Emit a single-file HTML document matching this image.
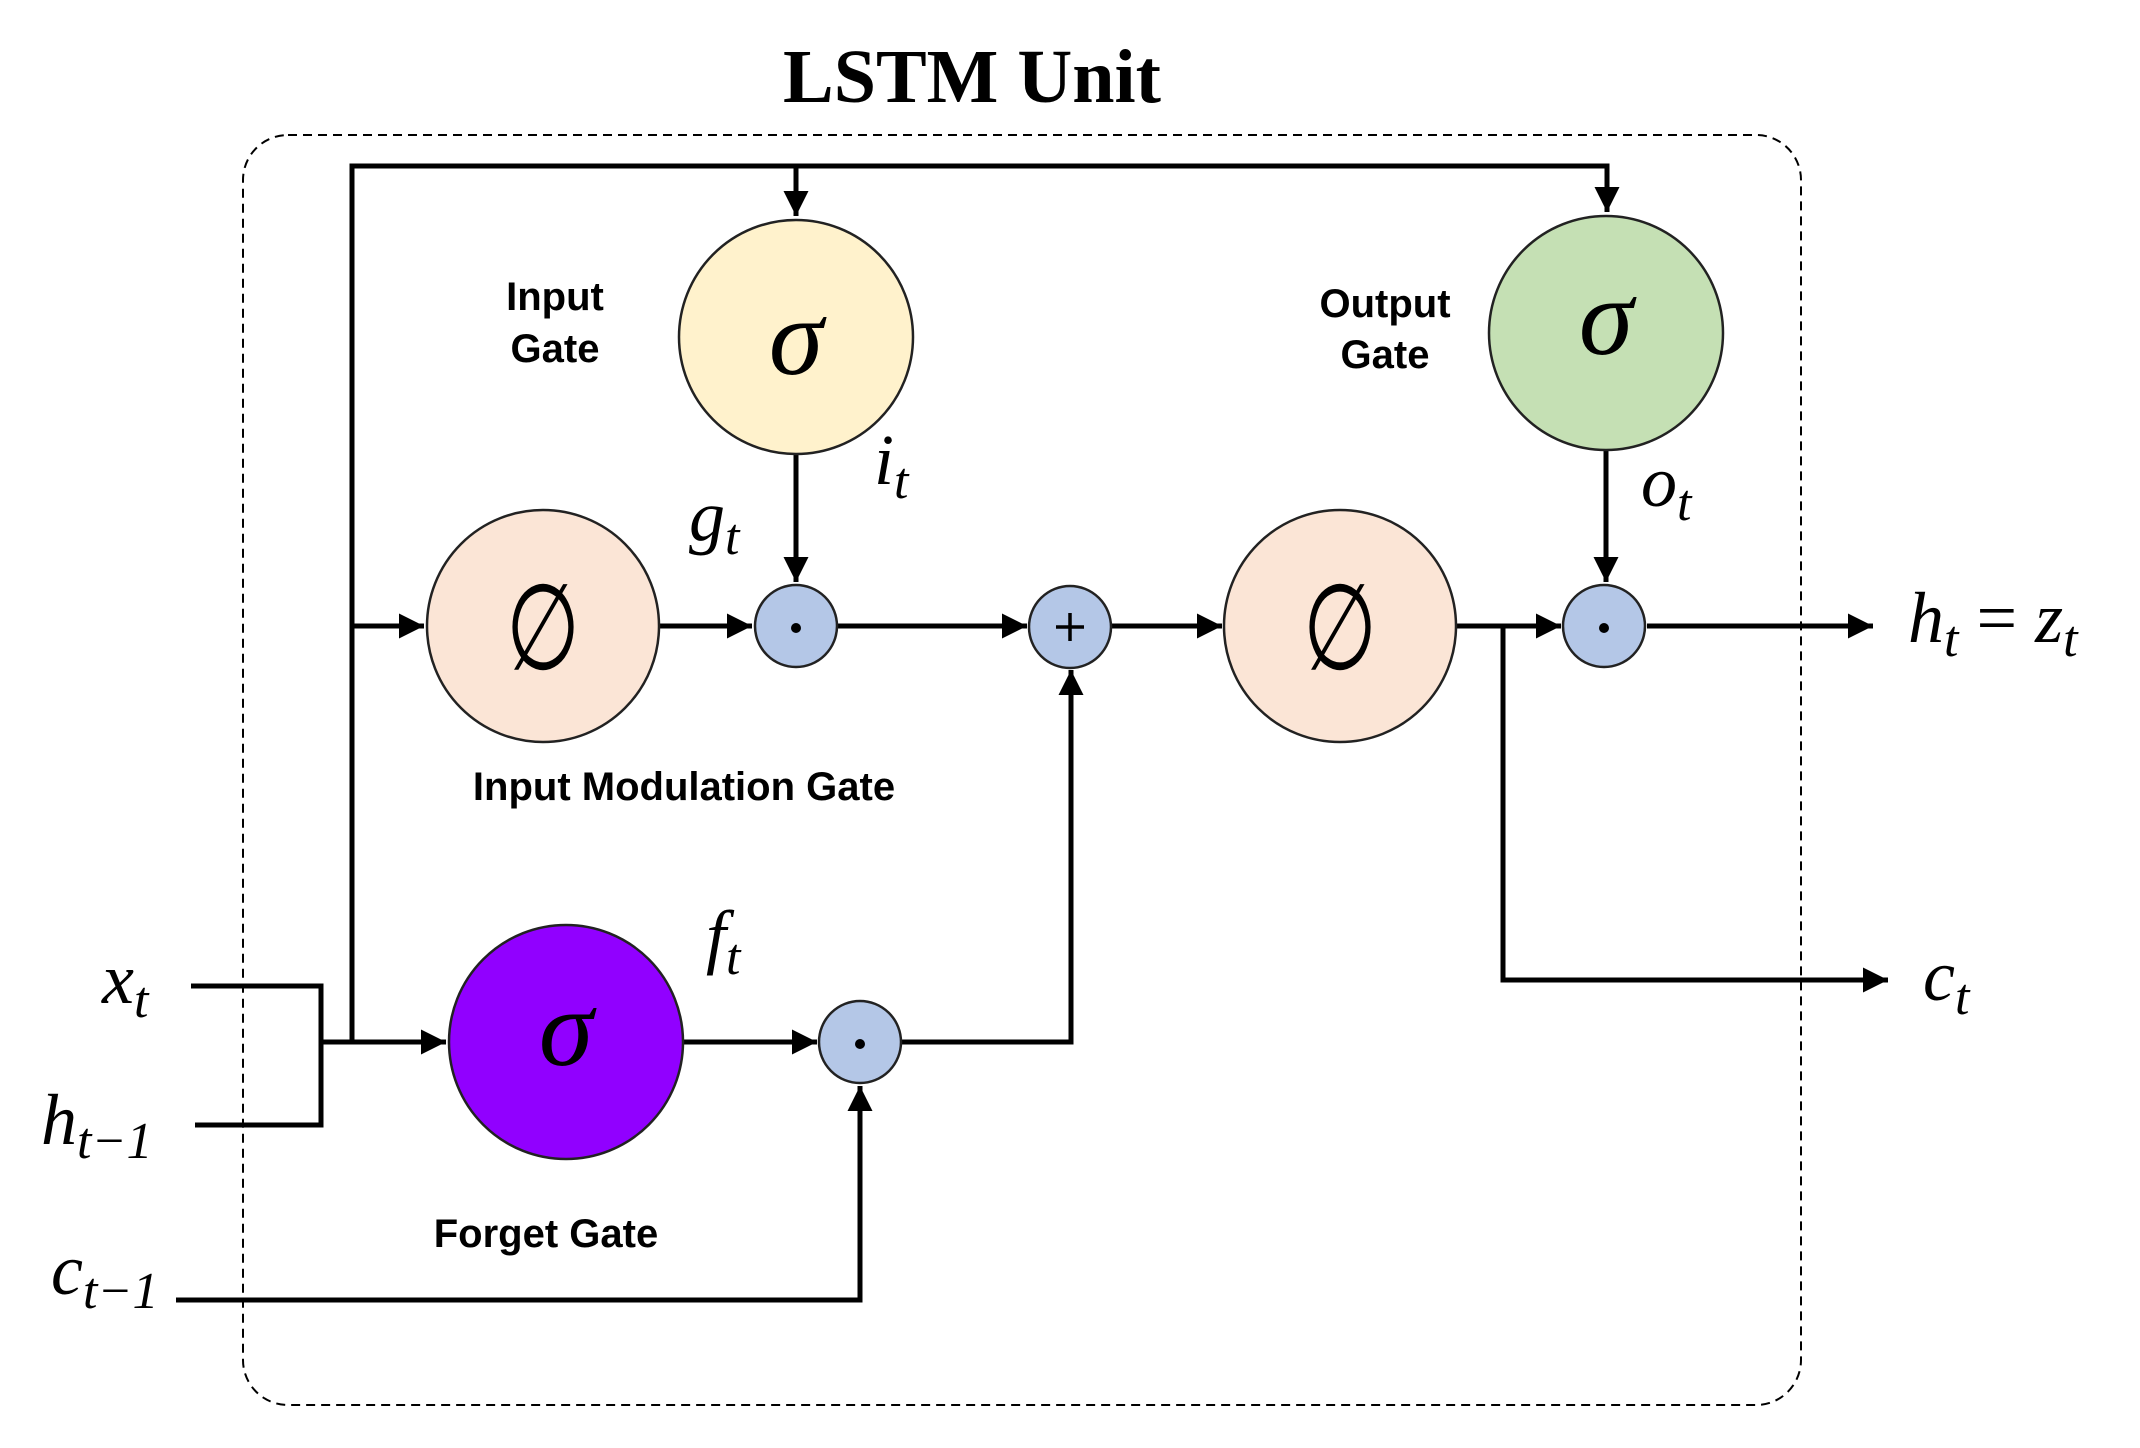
<!DOCTYPE html>
<html><head><meta charset="utf-8"><style>
html,body{margin:0;padding:0;background:#fff;}
svg{display:block;}
.m{font-family:"Liberation Serif","DejaVu Serif",serif;font-style:italic;}
.l{font-family:"Liberation Sans","DejaVu Sans",sans-serif;font-weight:bold;}
</style></head><body>
<svg width="2140" height="1448" viewBox="0 0 2140 1448" xmlns="http://www.w3.org/2000/svg">
<defs>
<marker id="a" viewBox="0 0 10 10" refX="10" refY="5" markerWidth="5" markerHeight="5" orient="auto" markerUnits="strokeWidth">
<path d="M0,0 L10,5 L0,10 z" fill="#000"/></marker>
</defs>
<text x="972" y="102" text-anchor="middle" font-family="Liberation Serif,serif" font-weight="bold" font-size="76">LSTM Unit</text>
<rect x="243" y="135" width="1558" height="1270" rx="45" ry="45" fill="none" stroke="#000" stroke-width="2" stroke-dasharray="9,6"/>
<g stroke="#000" stroke-width="5" fill="none">
<polyline points="352,1042 352,166 1607,166 1607,212" marker-end="url(#a)"/>
<line x1="796" y1="166" x2="796" y2="216" marker-end="url(#a)"/>
<line x1="352" y1="626" x2="424" y2="626" marker-end="url(#a)"/>
<polyline points="191,986 321,986 321,1125 195,1125"/>
<line x1="321" y1="1042" x2="446" y2="1042" marker-end="url(#a)"/>
<line x1="659" y1="626" x2="752" y2="626" marker-end="url(#a)"/>
<line x1="796" y1="455" x2="796" y2="582" marker-end="url(#a)"/>
<line x1="837" y1="626" x2="1027" y2="626" marker-end="url(#a)"/>
<line x1="1111" y1="626" x2="1222" y2="626" marker-end="url(#a)"/>
<line x1="683" y1="1042" x2="817" y2="1042" marker-end="url(#a)"/>
<polyline points="901,1042 1071,1042 1071,670" marker-end="url(#a)"/>
<polyline points="176,1300 860,1300 860,1086" marker-end="url(#a)"/>
<line x1="1457" y1="626" x2="1561" y2="626" marker-end="url(#a)"/>
<line x1="1606" y1="450" x2="1606" y2="582" marker-end="url(#a)"/>
<line x1="1647" y1="626" x2="1873" y2="626" marker-end="url(#a)"/>
<polyline points="1503,626 1503,980 1888,980" marker-end="url(#a)"/>
</g>
<g stroke="#222" stroke-width="2.5">
<circle cx="796" cy="337" r="117" fill="#FFF2CC"/>
<circle cx="1606" cy="333" r="117" fill="#C5E0B4"/>
<circle cx="543" cy="626" r="116" fill="#FBE5D6"/>
<circle cx="1340" cy="626" r="116" fill="#FBE5D6"/>
<circle cx="566" cy="1042" r="117" fill="#9100FF"/>
<circle cx="796" cy="626" r="41" fill="#B4C7E7"/>
<circle cx="1070" cy="627" r="41" fill="#B4C7E7"/>
<circle cx="1604" cy="626" r="41" fill="#B4C7E7"/>
<circle cx="860" cy="1042" r="41" fill="#B4C7E7"/>
</g>
<circle cx="796" cy="628" r="5" fill="#000"/>
<circle cx="1604" cy="628" r="5" fill="#000"/>
<circle cx="860" cy="1044" r="5" fill="#000"/>
<g stroke="#000" stroke-width="3.5"><line x1="1056" y1="627" x2="1084" y2="627"/><line x1="1070" y1="613" x2="1070" y2="641"/></g>
<g class="m" font-size="110" text-anchor="middle">
<text x="796" y="374">σ</text>
<text x="1606" y="354">σ</text>
<text x="566" y="1065">σ</text>
</g>
<g font-family="DejaVu Sans,sans-serif" font-size="100" text-anchor="middle">
<text x="543" y="662" transform="translate(543 626) scale(0.85 1.2) translate(-543 -626)">∅</text>
<text x="1340" y="662" transform="translate(1340 626) scale(0.85 1.2) translate(-1340 -626)">∅</text>
</g>
<g class="l" font-size="40" text-anchor="middle">
<text x="555" y="310">Input</text>
<text x="555" y="362">Gate</text>
<text x="1385" y="317">Output</text>
<text x="1385" y="368">Gate</text>
<text x="684" y="800">Input Modulation Gate</text>
<text x="546" y="1247">Forget Gate</text>
</g>
<g class="m" font-size="72">
<text x="874" y="484">i<tspan font-size="52" dy="14">t</tspan></text>
<text x="689" y="540">g<tspan font-size="52" dy="14">t</tspan></text>
<text x="1641" y="506">o<tspan font-size="52" dy="14">t</tspan></text>
<text x="706" y="960">f<tspan font-size="52" dy="14">t</tspan></text>
<text x="102" y="1003">x<tspan font-size="52" dy="14">t</tspan></text>
<text x="41" y="1144">h<tspan font-size="52" dy="14">t−1</tspan></text>
<text x="51" y="1294">c<tspan font-size="52" dy="14">t−1</tspan></text>
<text x="1908" y="642">h<tspan font-size="52" dy="14">t</tspan><tspan dy="-14" font-style="normal"> = </tspan>z<tspan font-size="52" dy="14">t</tspan></text>
<text x="1923" y="1000">c<tspan font-size="52" dy="14">t</tspan></text>
</g>
</svg>
</body></html>
